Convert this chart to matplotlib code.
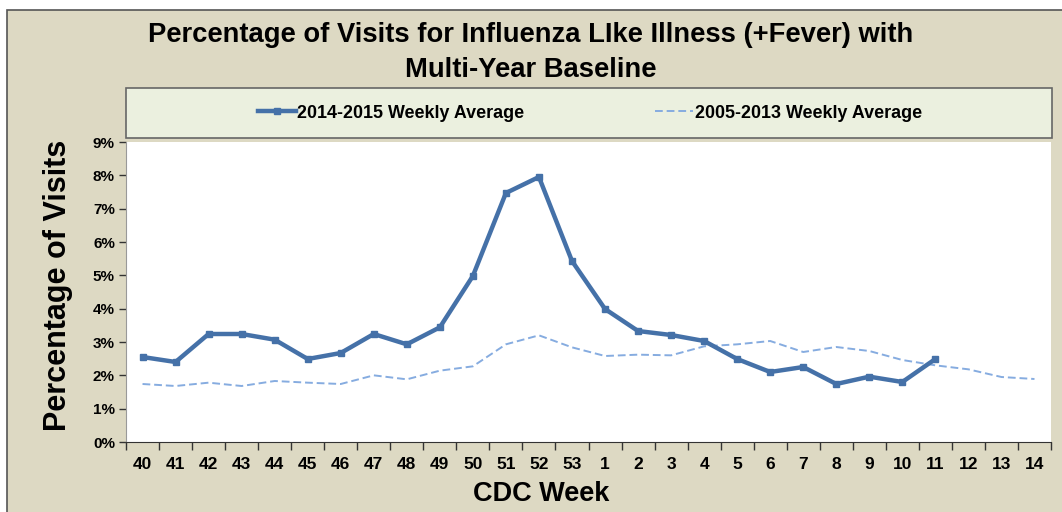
import matplotlib
matplotlib.use("Agg")
import matplotlib.pyplot as plt
from matplotlib.patches import Rectangle

weeks = ["40", "41", "42", "43", "44", "45", "46", "47", "48", "49", "50", "51", "52", "53",
         "1", "2", "3", "4", "5", "6", "7", "8", "9", "10", "11", "12", "13", "14"]
season_2014 = [2.55, 2.40, 3.24, 3.24, 3.07, 2.49, 2.67, 3.24, 2.93, 3.44, 4.98, 7.47, 7.95, 5.43,
               3.99, 3.33, 3.21, 3.03, 2.49, 2.10, 2.25, 1.74, 1.96, 1.80, 2.49]
baseline = [1.74, 1.68, 1.78, 1.68, 1.83, 1.78, 1.74, 2.00, 1.88, 2.14, 2.27, 2.93, 3.20, 2.84,
            2.58, 2.62, 2.60, 2.87, 2.93, 3.03, 2.70, 2.85, 2.73, 2.46, 2.30, 2.18, 1.95, 1.89]
yticks = list(range(0, 10))

BG = "#DDD9C3"
LEG_BG = "#EBF0DF"
SOLID = "#4571A8"
DASH = "#86ACE0"
narrow = ["Liberation Sans Narrow", "Liberation Sans", "DejaVu Sans"]
wide = ["Liberation Sans", "DejaVu Sans"]

fig = plt.figure(figsize=(10.62, 5.12), dpi=100)
fig.patch.set_facecolor("white")

# outer chart frame (beige), cut off on the right and bottom
fig.patches.append(Rectangle((7 / 1062, -0.01), 1.02, (512 - 10) / 512 + 0.01,
                             transform=fig.transFigure, facecolor=BG,
                             edgecolor="#555555", linewidth=1.2, zorder=-5))

# legend box
fig.patches.append(Rectangle((126 / 1062, (512 - 138) / 512), (1052 - 126) / 1062, 50 / 512,
                             transform=fig.transFigure, facecolor=LEG_BG,
                             edgecolor="#666666", linewidth=1.2, zorder=-4))

ax = fig.add_axes([126 / 1062, (512 - 442) / 512, (1051 - 126) / 1062, 300 / 512])
ax.set_zorder(5)
ax.set_facecolor("white")

x = list(range(len(weeks)))
ax.plot(x[:len(season_2014)], season_2014, color=SOLID, linewidth=3.2, marker="s",
        markersize=5, label="2014-2015 Weekly Average", zorder=3)
ax.plot(x, baseline, color=DASH, linewidth=1.4, linestyle=(0, (4, 2)),
        label="2005-2013 Weekly Average", zorder=2)

ax.set_xlim(-0.5, len(weeks) - 0.5)
ax.set_ylim(0, 9)
ax.set_yticks(yticks)
ax.set_yticklabels([f"{v}%" for v in yticks], fontfamily=narrow, fontweight="bold", fontsize=11)
ax.set_xticks(x)
ax.set_xticklabels(weeks, fontfamily=narrow, fontweight="bold", fontsize=12.5)
ax.set_xticks([i - 0.5 for i in range(len(weeks) + 1)], minor=True)
ax.tick_params(axis="x", which="major", length=0, pad=11)
ax.tick_params(axis="x", which="minor", length=6, width=1, color="#333333", direction="out")
ax.tick_params(axis="y", length=5, width=1, color="#333333", direction="out", pad=3)

for s in ["top", "right"]:
    ax.spines[s].set_visible(False)
ax.spines["left"].set_color("#999999")
ax.spines["bottom"].set_color("#333333")

ax.set_ylabel("Percentage of Visits", fontfamily=wide, fontweight="bold", fontsize=22)
ax.yaxis.set_label_coords(-0.057, 0.523)
fig.text(541 / 1062, 1 - 494 / 512, "CDC Week", ha="center", va="center",
         fontfamily=narrow, fontweight="bold", fontsize=19.5)

fig.text(531 / 1062, 1 - 35 / 512, "Percentage of Visits for Influenza LIke Illness (+Fever) with",
         ha="center", va="center", fontfamily=narrow, fontweight="bold", fontsize=19.7)
fig.text(531 / 1062, 1 - 70 / 512, "Multi-Year Baseline",
         ha="center", va="center", fontfamily=narrow, fontweight="bold", fontsize=19.7)

leg = ax.legend(loc="center", bbox_to_anchor=(590 / 1062, 1 - 113 / 512),
                bbox_transform=fig.transFigure, ncol=2, frameon=False,
                prop={"family": narrow, "weight": "bold", "size": 12.9},
                handlelength=2.1, handletextpad=0.1, columnspacing=7.3)

fig.savefig("out.png", dpi=100, facecolor=fig.get_facecolor())
